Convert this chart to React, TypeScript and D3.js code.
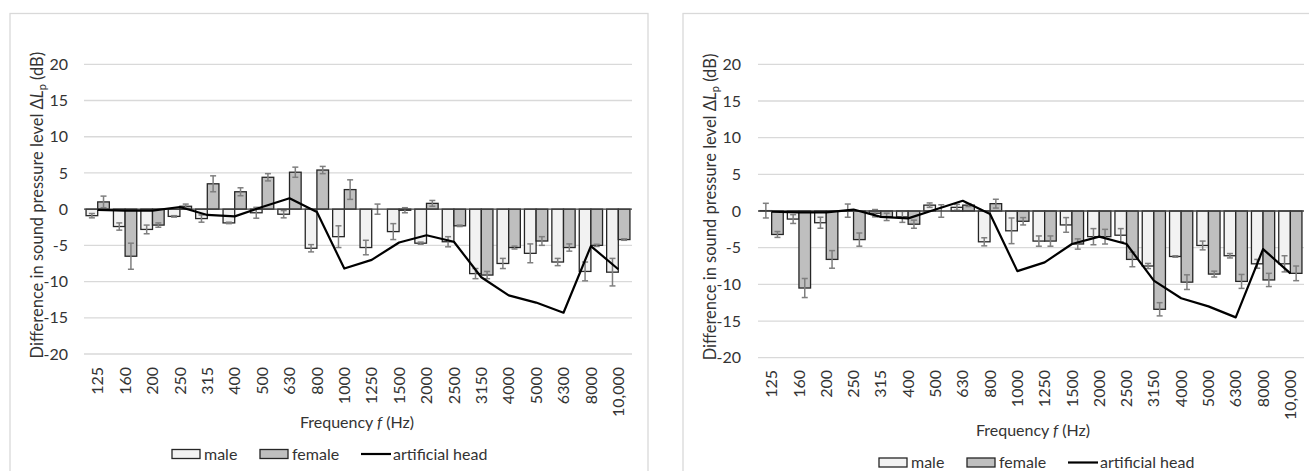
import React, { useEffect, useRef } from 'react';
import * as d3 from 'd3';

const freqs = ['125', '160', '200', '250', '315', '400', '500', '630', '800', '1000', '1250', '1500', '2000', '2500', '3150', '4000', '5000', '6300', '8000', '10,000'];
const yTicks = [20, 15, 10, 5, 0, -5, -10, -15, -20];

// left panel
const maleA = [-0.9, -2.4, -2.8, -1.0, -1.3, -1.9, -0.5, -0.7, -5.4, -3.8, -5.3, -3.1, -4.7, -4.5, -8.9, -7.5, -6.1, -7.3, -8.6, -8.7];
const maleErrA = [0.3, 0.5, 0.6, 0.1, 0.5, 0.1, 0.75, 0.5, 0.5, 1.5, 1.0, 1.1, 0.15, 0.7, 0.7, 0.7, 1.3, 0.5, 1.3, 1.9];
const femaleA = [1.0, -6.5, -2.2, 0.4, 3.5, 2.4, 4.4, 5.1, 5.4, 2.7, 0.0, -0.15, 0.8, -2.3, -9.1, -5.3, -4.4, -5.3, -5.0, -4.2];
const femaleErrA = [0.8, 1.8, 0.3, 0.3, 1.1, 0.55, 0.5, 0.7, 0.5, 1.35, 0.7, 0.35, 0.4, 0.1, 0.5, 0.2, 0.6, 0.5, 0.15, 0.1];
const headA = [-0.1, -0.2, -0.2, 0.3, -0.8, -1.0, 0.3, 1.5, -0.4, -8.2, -7.0, -4.6, -3.6, -4.5, -9.4, -11.9, -12.9, -14.3, -5.1, -8.3];

// right panel
const maleB = [0.05, -1.1, -1.6, 0.05, -0.3, -0.8, 0.8, 0.5, -4.2, -2.7, -4.1, -1.9, -3.5, -3.3, -7.5, -6.2, -4.7, -6.1, -7.2, -7.2];
const maleErrB = [1.0, 0.6, 0.75, 0.9, 0.5, 0.75, 0.3, 0.4, 0.55, 1.75, 0.7, 1.0, 1.1, 0.9, 0.35, 0.1, 0.6, 0.3, 0.6, 1.1];
const femaleB = [-3.2, -10.5, -6.6, -3.9, -0.8, -1.8, 0.0, 0.8, 1.0, -1.4, -4.1, -4.5, -3.5, -6.6, -13.4, -9.7, -8.6, -9.6, -9.4, -8.5];
const femaleErrB = [0.4, 1.3, 1.2, 0.9, 0.5, 0.55, 0.85, 0.2, 0.6, 0.5, 0.7, 0.7, 1.0, 1.0, 0.9, 1.0, 0.4, 0.95, 0.9, 1.0];
const headB = [-0.1, -0.2, -0.2, 0.2, -0.8, -1.0, 0.2, 1.4, -0.4, -8.2, -7.0, -4.5, -3.5, -4.5, -9.5, -11.9, -13.0, -14.5, -5.2, -8.5];

const FONT = 'Lato, "Open Sans", sans-serif';
const TEXT = '#333333';
const MALE_FILL = '#f2f2f2';
const FEMALE_FILL = '#bfbfbf';
const BAR_STROKE = '#262626';
const ERR = '#7f7f7f';
const GRID = '#d9d9d9';

interface PanelOpts {
  box: [number, number, number, number];
  x0: number;
  x1: number;
  yTop: number;
  yBot: number;
  tickX: number;
  titleX: number;
  labelY: number;
  freqTitle: [number, number];
  legend: [number, number];
  male: number[];
  maleErr: number[];
  female: number[];
  femaleErr: number[];
  head: number[];
}

function drawPanel(svg: d3.Selection<SVGSVGElement, unknown, null, undefined>, o: PanelOpts) {
  const g = svg.append('g');

  g.append('rect')
    .attr('x', o.box[0]).attr('y', o.box[1])
    .attr('width', o.box[2]).attr('height', o.box[3])
    .attr('fill', 'white').attr('stroke', GRID).attr('stroke-width', 1.3);

  const x = d3.scaleBand<string>().domain(freqs).range([o.x0, o.x1]).paddingInner(0.15).paddingOuter(0.075);
  const sub = d3.scaleBand<string>().domain(['male', 'female']).range([0, x.bandwidth()]);
  const y = d3.scaleLinear().domain([-20, 20]).range([o.yBot, o.yTop]);

  // grid
  g.selectAll('.grid')
    .data(yTicks.filter(t => t !== 0))
    .enter()
    .append('line')
    .attr('x1', o.x0).attr('x2', o.x1)
    .attr('y1', d => y(d)).attr('y2', d => y(d))
    .attr('stroke', GRID).attr('stroke-width', 1.3);

  // tick labels
  g.selectAll('.ytick')
    .data(yTicks)
    .enter()
    .append('text')
    .attr('x', o.tickX).attr('y', d => y(d))
    .attr('dy', '0.35em')
    .attr('text-anchor', 'end')
    .attr('font-size', 16)
    .attr('fill', TEXT)
    .text(d => d);

  const series = [
    { key: 'male', vals: o.male, errs: o.maleErr, fill: MALE_FILL },
    { key: 'female', vals: o.female, errs: o.femaleErr, fill: FEMALE_FILL },
  ];

  series.forEach(s => {
    g.selectAll(`.bar-${s.key}`)
      .data(s.vals)
      .enter()
      .append('rect')
      .attr('x', (_d, i) => (x(freqs[i]) || 0) + (sub(s.key) || 0))
      .attr('width', sub.bandwidth())
      .attr('y', d => Math.min(y(d), y(0)))
      .attr('height', d => Math.abs(y(d) - y(0)))
      .attr('fill', s.fill)
      .attr('stroke', BAR_STROKE)
      .attr('stroke-width', 1.3);
  });

  series.forEach(s => {
    s.vals.forEach((v, i) => {
      const cx = (x(freqs[i]) || 0) + (sub(s.key) || 0) + sub.bandwidth() / 2;
      const e = s.errs[i];
      const eg = g.append('g').attr('stroke', ERR).attr('stroke-width', 1.5);
      eg.append('line').attr('x1', cx).attr('x2', cx).attr('y1', y(v - e)).attr('y2', y(v + e));
      eg.append('line').attr('x1', cx - 3).attr('x2', cx + 3).attr('y1', y(v - e)).attr('y2', y(v - e));
      eg.append('line').attr('x1', cx - 3).attr('x2', cx + 3).attr('y1', y(v + e)).attr('y2', y(v + e));
    });
  });

  // zero axis
  g.append('line')
    .attr('x1', o.x0).attr('x2', o.x1)
    .attr('y1', y(0)).attr('y2', y(0))
    .attr('stroke', '#404040').attr('stroke-width', 1.3);

  const line = d3.line<number>()
    .x((_d, i) => (x(freqs[i]) || 0) + x.bandwidth() / 2)
    .y(d => y(d));

  g.append('path')
    .datum(o.head)
    .attr('fill', 'none')
    .attr('stroke', '#000')
    .attr('stroke-width', 2.2)
    .attr('stroke-linejoin', 'round')
    .attr('d', line);

  // x labels
  g.selectAll('.xlab')
    .data(freqs)
    .enter()
    .append('text')
    .attr('transform', d => `translate(${(x(d) || 0) + x.bandwidth() / 2},${o.labelY}) rotate(-90)`)
    .attr('dy', '0.35em')
    .attr('text-anchor', 'end')
    .attr('font-size', 16)
    .attr('fill', TEXT)
    .text(d => d);

  // axis titles
  const yt = g.append('text')
    .attr('transform', `translate(${o.titleX},${(o.yTop + o.yBot) / 2 - 4}) rotate(-90)`)
    .attr('text-anchor', 'middle')
    .attr('dy', '0.35em')
    .attr('font-size', 16.5)
    .attr('fill', TEXT);
  yt.append('tspan').text('Difference in sound pressure level Δ');
  yt.append('tspan').attr('font-style', 'italic').text('L');
  yt.append('tspan').attr('font-size', 11).attr('dy', 3).text('p');
  yt.append('tspan').attr('dy', -3).text(' (dB)');

  const xt = g.append('text')
    .attr('x', o.freqTitle[0]).attr('y', o.freqTitle[1])
    .attr('dy', '0.35em')
    .attr('text-anchor', 'middle')
    .attr('font-size', 16)
    .attr('fill', TEXT);
  xt.append('tspan').text('Frequency ');
  xt.append('tspan').attr('font-style', 'italic').text('f');
  xt.append('tspan').text(' (Hz)');

  // legend
  const [lx, ly] = o.legend;
  const items = [
    { label: 'male', fill: MALE_FILL, dx: 0, type: 'box' },
    { label: 'female', fill: FEMALE_FILL, dx: 88, type: 'box' },
    { label: 'artificial head', fill: '#000', dx: 189, type: 'line' },
  ];
  items.forEach(it => {
    if (it.type === 'box') {
      g.append('rect')
        .attr('x', lx + it.dx).attr('y', ly - 4.5)
        .attr('width', 28).attr('height', 9)
        .attr('fill', it.fill).attr('stroke', BAR_STROKE).attr('stroke-width', 1.3);
    } else {
      g.append('line')
        .attr('x1', lx + it.dx).attr('x2', lx + it.dx + 30)
        .attr('y1', ly).attr('y2', ly)
        .attr('stroke', '#000').attr('stroke-width', 2.2);
    }
    g.append('text')
      .attr('x', lx + it.dx + 32).attr('y', ly)
      .attr('dy', '0.35em')
      .attr('font-size', 16)
      .attr('fill', TEXT)
      .text(it.label);
  });
}

export default function App() {
  const svgRef = useRef<SVGSVGElement>(null);

  useEffect(() => {
    if (!svgRef.current) return;
    const svg = d3.select(svgRef.current);
    svg.selectAll('*').remove();
    svg.attr('font-family', FONT);

    drawPanel(svg, {
      box: [10, 13.5, 638, 480],
      x0: 84, x1: 632, yTop: 64.3, yBot: 354,
      tickX: 68, titleX: 37, labelY: 367,
      freqTitle: [357, 422],
      legend: [172, 454],
      male: maleA, maleErr: maleErrA, female: femaleA, femaleErr: femaleErrA, head: headA,
    });

    drawPanel(svg, {
      box: [683, 13.5, 640, 480],
      x0: 758, x1: 1304, yTop: 64.3, yBot: 357.7,
      tickX: 741, titleX: 710, labelY: 370,
      freqTitle: [1033, 430],
      legend: [879, 462.5],
      male: maleB, maleErr: maleErrB, female: femaleB, femaleErr: femaleErrB, head: headB,
    });
  }, []);

  return (
    <svg
      ref={svgRef}
      width={1309}
      height={471}
      style={{ position: 'absolute', left: 0, top: 0, background: 'white' }}
    />
  );
}
